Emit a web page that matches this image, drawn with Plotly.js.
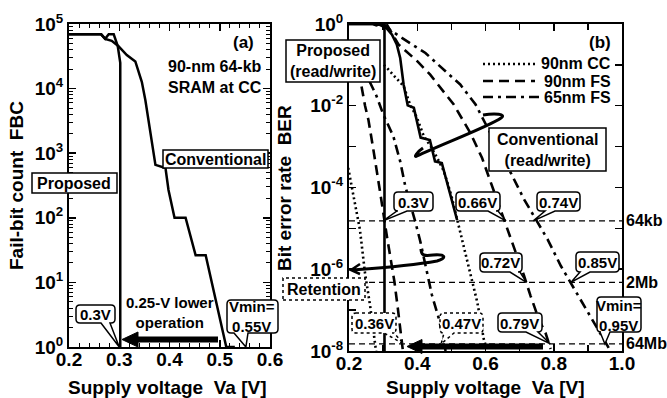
<!DOCTYPE html>
<html><head><meta charset="utf-8">
<script src="https://cdn.plot.ly/plotly-3.0.1.min.js"></script>
<style>html,body{margin:0;padding:0;background:#fff}#chart{width:667px;height:398px}</style>
</head><body><div id="chart"></div>
<script>
// ---------- Panel (a): fail-bit count ----------
const propA_V   = [0.2, 0.264, 0.272, 0.279, 0.289, 0.297, 0.302, 0.302];
const propA_FBC = [69200, 69200, 58900, 69200, 69200, 45700, 25000, 1];
const convA_V   = [0.2, 0.264, 0.272, 0.285, 0.298, 0.315, 0.332, 0.345, 0.352, 0.372, 0.392, 0.398, 0.41, 0.432, 0.452, 0.472, 0.513, 0.53];
const convA_FBC = [69200, 69200, 58900, 55000, 45700, 33100, 26300, 12600, 6610, 661, 589, 269, 100, 100, 26.3, 26.3, 1, 1];

// ---------- Panel (b): bit error rate ----------
const propB_V   = [0.2, 0.27, 0.28, 0.29, 0.304, 0.304];
const propB_BER = [1, 1, 0.93, 1, 0.95, 1e-8];
const convMeas_V   = [0.2, 0.27, 0.29, 0.31, 0.326, 0.34, 0.35, 0.36, 0.372, 0.39, 0.41, 0.422, 0.437, 0.452, 0.472, 0.517];
const convMeas_BER = [1, 1, 0.955, 0.794, 0.55, 0.316, 0.148, 0.0331, 0.0102, 0.0089, 0.00166, 0.00158, 0.00145, 0.000437, 0.000398, 1.58e-5];
const convCC_V   = [0.302, 0.311, 0.33, 0.36, 0.379, 0.399, 0.419, 0.44, 0.46, 0.478, 0.5, 0.517, 0.531, 0.556, 0.576, 0.595, 0.6];
const convCC_BER = [0.1, 0.0851, 0.0562, 0.0302, 0.0107, 0.00513, 0.00182, 0.001, 0.000501, 0.000251, 6.31e-5, 1.66e-5, 5.37e-6, 8.32e-7, 1.55e-7, 1.95e-8, 1.41e-8];
const convFS_V   = [0.31, 0.345, 0.40, 0.438, 0.507, 0.536, 0.556, 0.59, 0.62, 0.654, 0.683, 0.713, 0.732, 0.757, 0.776, 0.791];
const convFS_BER = [1, 0.316, 0.123, 0.0575, 0.0107, 0.00398, 0.00214, 0.000525, 0.000105, 1.66e-5, 3.39e-6, 6.92e-7, 2.24e-7, 5.75e-8, 2.75e-8, 1.12e-8];
const convFS65_V   = [0.30, 0.316, 0.355, 0.394, 0.424, 0.482, 0.526, 0.571, 0.62, 0.674, 0.713, 0.747, 0.782, 0.821, 0.85, 0.899, 0.948, 0.963];
const convFS65_BER = [1, 0.759, 0.457, 0.288, 0.195, 0.0708, 0.0331, 0.0107, 0.00178, 0.000229, 5.13e-5, 1.66e-5, 5.37e-6, 1.2e-6, 4.68e-7, 9.55e-8, 1.95e-8, 1.12e-8];
const retCC_V   = [0.195, 0.203, 0.213, 0.232, 0.247, 0.262, 0.276, 0.28];
const retCC_BER = [3.98e-4, 1.91e-4, 6.31e-5, 9.33e-6, 7.94e-7, 1.26e-7, 1.35e-8, 8.9e-9];
const retFS_V   = [0.225, 0.235, 0.247, 0.257, 0.27, 0.28, 0.29, 0.311, 0.333, 0.343, 0.353, 0.358];
const retFS_BER = [0.0708, 0.0355, 0.01, 0.00447, 0.001, 0.000316, 8.91e-5, 6.46e-6, 5.01e-7, 1.12e-7, 1.95e-8, 1e-8];
const retFS65_V   = [0.26, 0.28, 0.30, 0.33, 0.35, 0.365, 0.394, 0.409, 0.443, 0.463, 0.478, 0.483];
const retFS65_BER = [0.0398, 0.0178, 0.00631, 0.00178, 0.000437, 0.000107, 1.48e-5, 4.79e-6, 2.34e-7, 6.31e-8, 1.78e-8, 1e-8];

const thrLabels = ['64kb', '2Mb', '64Mb'];
const thrBER    = [1.526e-5, 4.768e-7, 1.49e-8];
const vminLabels = ['0.3V', '0.66V', '0.74V', '0.72V', '0.85V', '0.79V', 'Vmin=<br>0.95V', '0.36V', '0.47V'];
const vminV      = [0.3, 0.66, 0.74, 0.72, 0.85, 0.79, 0.95, 0.36, 0.47];
const vminThr    = [0, 0, 0, 1, 1, 2, 2, 2, 2];
const legendLabels = ['90nm CC', '90nm FS', '65nm FS'];

const aTickVals = [1, 10, 100, 1000, 1e4, 1e5];
const aTickText = ['10<sup>0</sup>', '10<sup>1</sup>', '10<sup>2</sup>', '10<sup>3</sup>', '10<sup>4</sup>', '10<sup>5</sup>'];
const bTickVals = [1, 1e-1, 1e-2, 1e-3, 1e-4, 1e-5, 1e-6, 1e-7, 1e-8];
const bTickText = ['10<sup>0</sup>', ' ', '10<sup>-2</sup>', ' ', '10<sup>-4</sup>', ' ', '10<sup>-6</sup>', ' ', '10<sup>-8</sup>'];
const aXTicks = [0.2, 0.3, 0.4, 0.5, 0.6];
const bXTicks = [0.2, 0.4, 0.6, 0.8, 1.0];
const aXRange = [0.2, 0.6];
const bXRange = [0.2, 1.0];

// ---------- layout geometry (pixels) ----------
const W = 667, H = 398;
const A = {l: 69, r: 270, t: 24, b: 347};
const B = {l: 349, r: 622, t: 24, b: 351};
const FONT = 'Liberation Sans, Arial, sans-serif';
const DOT = '2px,3px', DASH = '10px,6px', DASHDOT = '10px,5px,3px,5px';

const px = x => +(x / W).toFixed(5);
const py = y => +(1 - y / H).toFixed(5);
const P = (x, y) => px(x) + ',' + py(y);
function bx(v) { return B.l + (v - bXRange[0]) / (bXRange[1] - bXRange[0]) * (B.r - B.l); }
function by(ber) { return B.t + (-Math.log10(ber)) / 8 * (B.b - B.t); }
function ax(v) { return A.l + (v - aXRange[0]) / (aXRange[1] - aXRange[0]) * (A.r - A.l); }
function ay(f) { return A.b - Math.log10(f) / 5 * (A.b - A.t); }

function bubble(b, t1, t2, tip, r, dash) {
  const [x0, y0, x1, y1] = b;
  let d = 'M' + P(x0 + r, y0) + ' L' + P(x1 - r, y0) + ' Q' + P(x1, y0) + ' ' + P(x1, y0 + r) +
    ' L' + P(x1, y1 - r) + ' Q' + P(x1, y1) + ' ' + P(x1 - r, y1) +
    ' L' + P(t2, y1) + ' L' + P(tip[0], tip[1]) + ' L' + P(t1, y1) +
    ' L' + P(x0 + r, y1) + ' Q' + P(x0, y1) + ' ' + P(x0, y1 - r) +
    ' L' + P(x0, y0 + r) + ' Q' + P(x0, y0) + ' ' + P(x0 + r, y0) + ' Z';
  return {type: 'path', xref: 'paper', yref: 'paper', path: d, fillcolor: 'white',
          line: {color: 'black', width: 1.5, dash: dash || 'solid'}, layer: 'above'};
}
function rect(b, dash) {
  return {type: 'rect', xref: 'paper', yref: 'paper', x0: px(b[0]), x1: px(b[2]), y0: py(b[3]), y1: py(b[1]),
          fillcolor: 'white', line: {color: 'black', width: 1.5, dash: dash || 'solid'}, layer: 'above'};
}
function txt(text, x, y, size, opts) {
  return Object.assign({xref: 'paper', yref: 'paper', x: px(x), y: py(y), text: text, showarrow: false,
    xanchor: 'center', yanchor: 'middle', font: {family: FONT, size: size, color: 'black', weight: 'bold'}}, opts || {});
}
function pathShape(d, w) {
  return {type: 'path', xref: 'paper', yref: 'paper', path: d, line: {color: 'black', width: w}, layer: 'above'};
}
function triangle(pts) {
  return {type: 'path', xref: 'paper', yref: 'paper', path: 'M' + P(...pts[0]) + ' L' + P(...pts[1]) + ' L' + P(...pts[2]) + ' Z',
          fillcolor: 'black', line: {color: 'black', width: 1}, layer: 'above'};
}

// ---------- traces ----------
const ln = (w, dash) => ({color: 'black', width: w, dash: dash || 'solid'});
const traces = [
  {x: propA_V, y: propA_FBC, mode: 'lines', line: ln(2.5), xaxis: 'x', yaxis: 'y'},
  {x: convA_V, y: convA_FBC, mode: 'lines', line: ln(2.5), xaxis: 'x', yaxis: 'y'},
];
thrBER.forEach(t => traces.push({x: bXRange, y: [t, t], mode: 'lines', line: ln(1.2, '6px,4px'), xaxis: 'x2', yaxis: 'y2'}));
[[propB_V, propB_BER, 'solid'], [convMeas_V, convMeas_BER, 'solid'],
 [convCC_V, convCC_BER, DOT], [convFS_V, convFS_BER, DASH], [convFS65_V, convFS65_BER, DASHDOT],
 [retCC_V, retCC_BER, DOT], [retFS_V, retFS_BER, DASH], [retFS65_V, retFS65_BER, DASHDOT]
].forEach(([x, y, d]) => traces.push({x: x, y: y, mode: 'lines', line: ln(2.6, d), xaxis: 'x2', yaxis: 'y2'}));

// ---------- shapes & annotations ----------
const shapes = [];
const ann = [];

// Panel (a)
shapes.push(rect([163, 150, 268, 168]));
ann.push(txt('Conventional', 215.5, 159.5, 16));
shapes.push(rect([32, 173, 117, 193]));
ann.push(txt('Proposed', 74.5, 183.5, 16));
shapes.push(bubble([76, 305, 115, 323], 101, 110, [ax(0.3), ay(1)], 4));
ann.push(txt('0.3V', 95.5, 314.5, 15));
shapes.push(bubble([227, 300, 278, 333], 234, 248, [ax(0.552), ay(1)], 4));
ann.push(txt('Vmin=<br>0.55V', 252.5, 317, 15));
shapes.push({type: 'line', xref: 'paper', yref: 'paper', x0: px(218), x1: px(135), y0: py(339.5), y1: py(339.5), line: {color: 'black', width: 6}, layer: 'above'});
shapes.push(triangle([[122, 339.5], [138, 332], [138, 347]]));
ann.push(txt('0.25-V lower<br>operation', 170, 313, 15));
ann.push(txt('(a)', 243, 43, 17));
ann.push(txt('90-nm 64-kb<br>SRAM at CC', 264, 77, 16, {xanchor: 'right', align: 'right'}));
ann.push(txt('Fail-bit count&nbsp; FBC', 16, 186, 19, {textangle: -90}));
ann.push(txt('Supply voltage&nbsp; Va [V]', 168, 388, 19));

// Panel (b)
ann.push(txt('(b)', 600, 43, 17));
const legDash = [DOT, DASH, DASHDOT];
const legY = [64, 81, 97];
legendLabels.forEach((l, i) => {
  shapes.push({type: 'line', xref: 'paper', yref: 'paper', x0: px(483), x1: px(i === 2 ? 540 : 535), y0: py(legY[i]), y1: py(legY[i]),
               line: {color: 'black', width: 2.5, dash: legDash[i]}, layer: 'above'});
  ann.push(txt(l, 613, legY[i], 16, {xanchor: 'right'}));
});
shapes.push(rect([286, 40, 380, 82]));
ann.push(txt('Proposed<br>(read/write)', 333, 61.5, 16));
shapes.push(rect([489, 128, 606, 171]));
ann.push(txt('Conventional<br>(read/write)', 547.5, 150, 16));
shapes.push(pathShape('M' + P(483, 115) + ' C' + P(495, 113) + ' ' + P(507, 114) + ' ' + P(501, 118) +
  ' C' + P(490, 126) + ' ' + P(440, 145) + ' ' + P(417, 156) + ' C' + P(413, 158) + ' ' + P(417, 152) + ' ' + P(423, 148), 3));
shapes.push(pathShape('M' + P(421, 249) + ' C' + P(421, 256) + ' ' + P(425, 256) + ' ' + P(433, 255) +
  ' C' + P(446, 254) + ' ' + P(447, 258) + ' ' + P(437, 261) + ' C' + P(410, 266) + ' ' + P(380, 268) + ' ' + P(352, 270), 3));
shapes.push(pathShape('M' + P(360, 264) + ' L' + P(351, 270) + ' L' + P(360, 274), 2.5));
shapes.push(rect([283, 278, 365, 300], 'dot'));
ann.push(txt('Retention', 324, 289.5, 16));
shapes.push({type: 'line', xref: 'paper', yref: 'paper', x0: px(543), x1: px(420), y0: py(346.5), y1: py(346.5), line: {color: 'black', width: 6}, layer: 'above'});
shapes.push(triangle([[407, 346.5], [422, 339.5], [422, 353.5]]));

// callouts in panel (b)
const cBox  = [[394,192,433,211],[456,192,500,211],[537,192,580,211],[480,253,522,272],[576,252,619,272],[498,313,542,332],[597,297,641,332],[352,313,396,333],[440,313,483,333]];
const cTail = [[397,407],[488,498],[545,555],[510,520],[580,590],[526,538],[600,610],[384,394],[444,454]];
const cDash = ['solid','solid','solid','solid','solid','solid','solid','dot','dot'];
vminLabels.forEach((l, i) => {
  const b = cBox[i];
  shapes.push(bubble(b, cTail[i][0], cTail[i][1], [bx(vminV[i]), by(thrBER[vminThr[i]])], 4, cDash[i]));
  ann.push(txt(l, (b[0] + b[2]) / 2, (b[1] + b[3]) / 2 + 0.5, 15));
});
thrLabels.forEach((l, i) => ann.push({xref: 'paper', yref: 'y2', x: px(624), y: Math.log10(thrBER[i]), text: l, showarrow: false,
  xanchor: 'left', yanchor: 'middle', font: {family: FONT, size: 16, color: 'black', weight: 'bold'}}));
ann.push(txt('Bit error rate&nbsp; BER', 285, 188, 19, {textangle: -90}));
ann.push(txt('Supply voltage&nbsp; Va [V]', 485, 388, 19));

// ---------- axes ----------
const tickFont = {family: FONT, size: 19, color: 'black', weight: 'bold'};
const axBase = {showline: true, linecolor: 'black', linewidth: 2, mirror: 'ticks', ticks: 'inside', ticklen: 7,
  tickwidth: 1.5, tickcolor: 'black', showgrid: false, zeroline: false, tickfont: tickFont, fixedrange: true};

const layout = {
  width: W, height: H, margin: {l: 0, r: 0, t: 0, b: 0}, paper_bgcolor: 'white', plot_bgcolor: 'white',
  showlegend: false, font: {family: FONT},
  xaxis: Object.assign({}, axBase, {domain: [px(A.l), px(A.r)], range: aXRange, anchor: 'y', tickmode: 'array', tickvals: aXTicks,
    ticklabelstandoff: -6,
    ticktext: aXTicks.map(v => v.toFixed(1)), minor: {dtick: 0.02, tick0: 0.2, ticks: 'inside', ticklen: 4, tickwidth: 1, tickcolor: 'black'}}),
  yaxis: Object.assign({}, axBase, {domain: [py(A.b), py(A.t)], type: 'log', range: [0, 5], anchor: 'x', tickmode: 'array',
    tickvals: aTickVals, ticktext: aTickText, minor: {dtick: 'D1', ticks: 'inside', ticklen: 4, tickwidth: 1, tickcolor: 'black'}}),
  xaxis2: Object.assign({}, axBase, {domain: [px(B.l), px(B.r)], range: bXRange, anchor: 'y2', tickmode: 'array', tickvals: bXTicks,
    ticklabelstandoff: -6,
    ticktext: bXTicks.map(v => v.toFixed(1)), minor: {dtick: 0.1, tick0: 0.2, ticks: 'inside', ticklen: 6, tickwidth: 1.5, tickcolor: 'black'}}),
  yaxis2: Object.assign({}, axBase, {domain: [py(B.b), py(B.t)], type: 'log', range: [-8, 0], anchor: 'x2', tickmode: 'array',
    tickvals: bTickVals, ticktext: bTickText}),
  shapes: shapes, annotations: ann
};

Plotly.newPlot('chart', traces, layout, {staticPlot: true, displayModeBar: false});
</script></body></html>
